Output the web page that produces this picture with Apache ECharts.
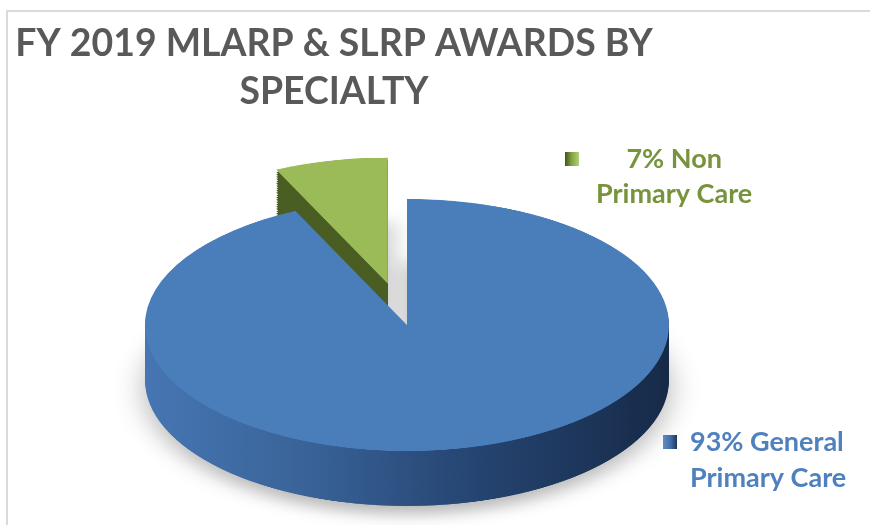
<!DOCTYPE html>
<html>
<head>
<meta charset="utf-8">
<title>FY 2019 MLARP & SLRP Awards by Specialty</title>
<script src="https://cdn.jsdelivr.net/npm/echarts@6/dist/echarts.min.js"></script>
<style>
  html, body { margin: 0; padding: 0; background: #fff; }
  #frame { position: relative; width: 870px; height: 525px; overflow: hidden; background: #fff; }
  #frame::before {
    content: ''; position: absolute; left: 6px; top: 10px; right: 0; bottom: 0;
    border-left: 2px solid #dadada; border-top: 2px solid #dadada;
  }
  /* pie is drawn flat, then squashed to look tilted */
  #pie { position: absolute; left: 0; top: 0; width: 870px; height: 1092px; transform-origin: 0 0; }
  #main { position: absolute; left: 0; top: 0; width: 870px; height: 525px; }
</style>
</head>
<body>
<div id="frame">
  <div id="pie"></div>
  <div id="main"></div>
</div>
<script>
const categories = ['General Primary Care', 'Non Primary Care'];
const shares = [93, 7];

const TILT = 0.481;
const CX = 407, CY = 325, R = 262, DEPTH = 55;
const SIDE_LAYERS = 24;

document.getElementById('pie').style.transform = 'scaleY(' + TILT + ')';

const G = echarts.graphic;
const topColors = ['#4a7ebb', '#9bbb59'];
const sideColors = [
  new G.LinearGradient(0, 0, 1, 0, [
    { offset: 0, color: '#4676b3' },
    { offset: 0.3, color: '#3a6499' },
    { offset: 0.6, color: '#274775' },
    { offset: 1, color: '#172a48' }
  ]),
  '#4a5d22'
];

function layer(dy, colors, z, shadow) {
  return {
    type: 'pie',
    z: z,
    silent: true,
    animation: false,
    center: [CX, (CY + dy) / TILT],
    radius: R,
    startAngle: 90,
    clockwise: true,
    selectedMode: 'single',
    selectedOffset: 88,
    label: { show: false },
    labelLine: { show: false },
    emphasis: { disabled: true },
    data: categories.map((name, i) => ({
      name: name,
      value: shares[i],
      selected: i === 1,
      itemStyle: Object.assign({ color: colors[i] }, shadow || {})
    }))
  };
}

const pieSeries = [];
for (let k = SIDE_LAYERS; k >= 1; k--) {
  const shadow = k === SIDE_LAYERS
    ? { shadowBlur: 30, shadowColor: 'rgba(0,0,0,0.28)', shadowOffsetY: 18 }
    : null;
  pieSeries.push(layer(DEPTH * k / SIDE_LAYERS, sideColors, SIDE_LAYERS - k + 1, shadow));
}
pieSeries.push(layer(0, topColors, SIDE_LAYERS + 2));

const pie = echarts.init(document.getElementById('pie'), null, { renderer: 'canvas' });
pie.setOption({ animation: false, series: pieSeries });

// title + legends on an unscaled layer
const markerColors = [
  new G.LinearGradient(0, 0, 1, 0, [
    { offset: 0, color: '#5d8cc6' },
    { offset: 0.55, color: '#3f6da8' },
    { offset: 1, color: '#1d355a' }
  ]),
  new G.LinearGradient(0, 0, 1, 0, [
    { offset: 0, color: '#41561a' },
    { offset: 0.5, color: '#86a645' },
    { offset: 1, color: '#b3cf7a' }
  ])
];

function legendText(name) {
  const i = categories.indexOf(name);
  const words = name.split(' ');
  return '{e| }\n{a|' + shares[i] + '% ' + words[0] + '}\n{a|' + words.slice(1).join(' ') + '}';
}

function legendRich(color, lh, align) {
  return {
    e: { fontSize: 22, lineHeight: lh },
    a: { fontFamily: 'Lato', fontWeight: 'bold', fontSize: 27, lineHeight: lh, color: color, align: align }
  };
}

const main = echarts.init(document.getElementById('main'));
main.setOption({
  animation: false,
  title: {
    text: 'FY 2019 MLARP & SLRP AWARDS BY\nSPECIALTY',
    left: 329,
    top: 15,
    textAlign: 'center',
    textStyle: {
      fontFamily: 'Lato',
      fontWeight: 'bold',
      fontSize: 37.4,
      lineHeight: 48,
      color: '#595959'
    }
  },
  legend: [
    {
      data: [{ name: categories[1], itemStyle: { color: markerColors[1] } }],
      left: 565,
      top: 113,
      padding: 0,
      icon: 'rect',
      itemWidth: 14,
      itemHeight: 14,
      selectedMode: false,
      formatter: legendText,
      textStyle: { padding: [0, 0, 0, 12], rich: legendRich('#77933c', 35, 'center') }
    },
    {
      data: [{ name: categories[0], itemStyle: { color: markerColors[0] } }],
      left: 663,
      top: 395,
      padding: 0,
      icon: 'rect',
      itemWidth: 14,
      itemHeight: 14,
      selectedMode: false,
      formatter: legendText,
      textStyle: { padding: [0, 0, 0, 8], rich: legendRich('#4f81bd', 36, 'left') }
    }
  ],
  series: [{
    type: 'pie',
    radius: 0,
    silent: true,
    label: { show: false },
    labelLine: { show: false },
    data: categories.map((name, i) => ({ name: name, value: shares[i] }))
  }]
});
</script>
</body>
</html>
